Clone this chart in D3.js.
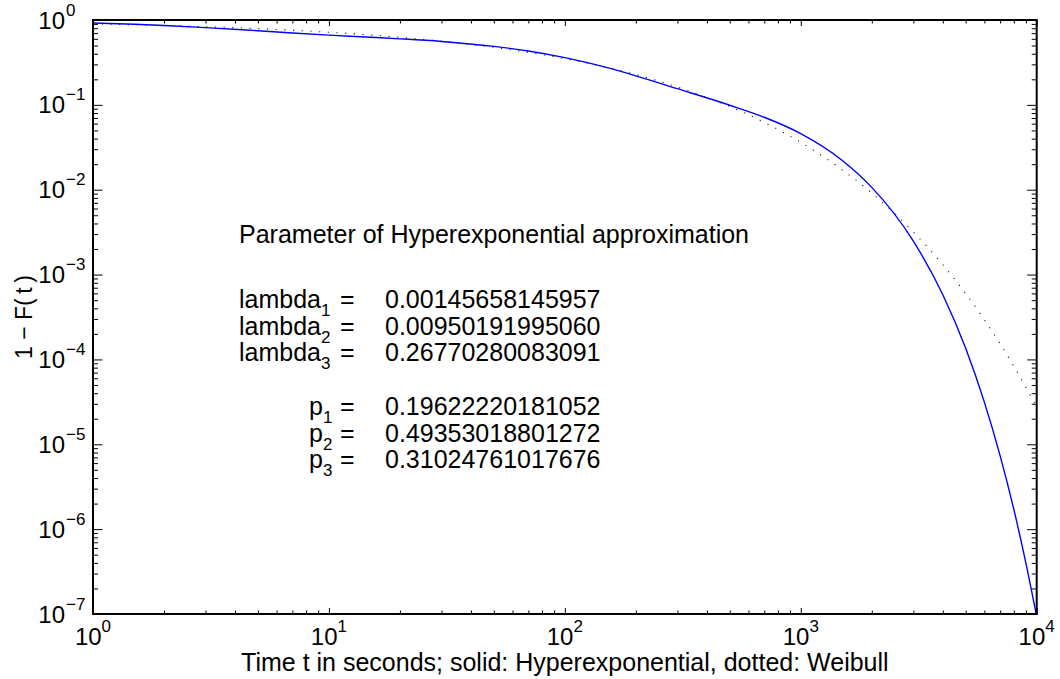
<!DOCTYPE html>
<html>
<head>
<meta charset="utf-8">
<script src="https://cdn.jsdelivr.net/npm/d3@7"></script>
<style>
  html, body { margin: 0; padding: 0; background: #fff; }
  text { font-family: "Liberation Sans", Arial, Helvetica, sans-serif; fill: #000; }
</style>
</head>
<body>
<svg id="chart" width="1060" height="679"></svg>
<script>
// ---- data ----
const timeValues = [1, 1.5, 2, 3, 5, 7, 10, 15, 20, 30, 50, 70, 100, 150, 200, 300, 500, 700,
  1000, 1500, 2000, 3000, 4000, 5000, 6000, 7000, 8000, 9000, 10000];
const hyperexpValues = [0.922, 0.890, 0.862, 0.814, 0.747, 0.704, 0.664, 0.626, 0.600, 0.559,
  0.489, 0.431, 0.360, 0.276, 0.220, 0.155, 0.099, 0.0714,
  0.0458, 0.0221, 0.01065, 0.00248, 5.78e-4, 1.35e-4, 3.14e-5, 7.3e-6, 1.71e-6, 3.98e-7, 9.3e-8];
const weibullValues = [0.900, 0.879, 0.862, 0.834, 0.791, 0.757, 0.717, 0.666, 0.625, 0.563,
  0.476, 0.415, 0.350, 0.276, 0.227, 0.162, 0.0956, 0.0622,
  0.0361, 0.0171, 0.00914, 0.00318, 0.00131, 5.97e-4, 2.94e-4, 1.53e-4, 8.3e-5, 4.7e-5, 2.75e-5];
const xTickExponents = [0, 1, 2, 3, 4];
const yTickExponents = [0, -1, -2, -3, -4, -5, -6, -7];
const xLabelText = "Time t in seconds; solid: Hyperexponential, dotted: Weibull";
const yLabelText = "1 \u2212 F(\u2009t\u2009)";
const paramTitle = "Parameter of Hyperexponential approximation";
const lambdaNames = ["1", "2", "3"];
const lambdaValues = ["0.00145658145957", "0.00950191995060", "0.26770280083091"];
const pNames = ["1", "2", "3"];
const pValues = ["0.19622220181052", "0.49353018801272", "0.31024761017676"];

// ---- layout ----
const L = 93, R = 1036.7, T = 20, B = 614;
const FS = 25, TICKFS = 24, SUP = 17;

const svg = d3.select("#chart");
const x = d3.scaleLog().domain([1, 1e4]).range([L, R]);
const y = d3.scaleLog().domain([1e-7, 1]).range([B, T]);

const minorX = [], minorY = [];
for (let e = 0; e < 4; e++) for (let k = 2; k <= 9; k++) minorX.push(k * Math.pow(10, e));
for (let e = -7; e < 0; e++) for (let k = 2; k <= 9; k++) minorY.push(k * Math.pow(10, e));
const majorX = xTickExponents.map(e => Math.pow(10, e));
const majorY = yTickExponents.map(e => Math.pow(10, e));

function styleAxis(g) {
  g.select(".domain").remove();
  g.selectAll(".tick line").attr("stroke", "#000").attr("stroke-width", 1);
  g.selectAll(".tick text").remove();
}
svg.append("g").attr("transform", `translate(0,${B})`)
  .call(d3.axisBottom(x).tickValues(minorX).tickSize(-3.5).tickFormat("")).call(styleAxis);
svg.append("g").attr("transform", `translate(0,${B})`)
  .call(d3.axisBottom(x).tickValues(majorX).tickSize(-6).tickFormat("")).call(styleAxis);
svg.append("g").attr("transform", `translate(0,${T})`)
  .call(d3.axisTop(x).tickValues(minorX).tickSize(-3.5).tickFormat("")).call(styleAxis);
svg.append("g").attr("transform", `translate(0,${T})`)
  .call(d3.axisTop(x).tickValues(majorX).tickSize(-6).tickFormat("")).call(styleAxis);
svg.append("g").attr("transform", `translate(${L},0)`)
  .call(d3.axisLeft(y).tickValues(minorY).tickSize(-5).tickFormat("")).call(styleAxis);
svg.append("g").attr("transform", `translate(${L},0)`)
  .call(d3.axisLeft(y).tickValues(majorY).tickSize(-9.5).tickFormat("")).call(styleAxis);
svg.append("g").attr("transform", `translate(${R},0)`)
  .call(d3.axisRight(y).tickValues(minorY).tickSize(-5).tickFormat("")).call(styleAxis);
svg.append("g").attr("transform", `translate(${R},0)`)
  .call(d3.axisRight(y).tickValues(majorY).tickSize(-9.5).tickFormat("")).call(styleAxis);

// curves
svg.append("clipPath").attr("id", "plotclip").append("rect")
  .attr("x", L).attr("y", T).attr("width", R - L).attr("height", B - T);
const pts = (vals) => timeValues.map((t, i) => ({ t, s: vals[i] }));
const line = d3.line().x(d => x(d.t)).y(d => y(d.s)).curve(d3.curveMonotoneX);
const plot = svg.append("g").attr("clip-path", "url(#plotclip)");
plot.append("path").datum(pts(weibullValues)).attr("d", line)
  .attr("fill", "none").attr("stroke", "#222").attr("stroke-width", 1.1)
  .attr("stroke-dasharray", "1.2,7.5");
plot.append("path").datum(pts(hyperexpValues)).attr("d", line)
  .attr("fill", "none").attr("stroke", "#0000ff").attr("stroke-width", 1.4);

// box
svg.append("rect").attr("x", L).attr("y", T).attr("width", R - L).attr("height", B - T)
  .attr("fill", "none").attr("stroke", "#000").attr("stroke-width", 2);

// tick labels: "10" plus raised exponent
function expText(e) { return e < 0 ? "\u2212" + Math.abs(e) : String(e); }
xTickExponents.forEach(e => {
  const t = svg.append("text").attr("x", x(Math.pow(10, e))).attr("y", B + 31)
    .attr("text-anchor", "middle").attr("font-size", TICKFS);
  t.append("tspan").text("10");
  t.append("tspan").attr("dy", -13).attr("font-size", SUP).text(expText(e));
});
yTickExponents.forEach(e => {
  const yy = y(Math.pow(10, e)) + 8.5;
  svg.append("text").attr("x", 65).attr("y", yy).attr("text-anchor", "end")
    .attr("font-size", TICKFS).text("10");
  svg.append("text").attr("x", 66).attr("y", yy - 13).attr("font-size", SUP).text(expText(e));
});

// axis labels
svg.append("text").attr("x", (L + R) / 2).attr("y", 671).attr("text-anchor", "middle")
  .attr("font-size", FS).text(xLabelText);
svg.append("text").attr("transform", `translate(32,${(T + B) / 2}) rotate(-90)`)
  .attr("text-anchor", "middle").attr("font-size", 23).text(yLabelText);

// parameter annotation
svg.append("text").attr("x", 239).attr("y", 243).attr("font-size", FS).text(paramTitle);
function paramRow(name, sub, value, xName, baseY) {
  const t = svg.append("text").attr("x", xName).attr("y", baseY).attr("font-size", FS);
  t.append("tspan").text(name);
  t.append("tspan").attr("dy", 8).attr("font-size", SUP).text(sub);
  svg.append("text").attr("x", 340).attr("y", baseY).attr("font-size", FS).text("=");
  svg.append("text").attr("x", 385).attr("y", baseY).attr("font-size", FS).text(value);
}
lambdaNames.forEach((n, i) => paramRow("lambda", n, lambdaValues[i], 239, 308 + i * 26.7));
pNames.forEach((n, i) => paramRow("p", n, pValues[i], 309, 415 + i * 26.7));
</script>
</body>
</html>
